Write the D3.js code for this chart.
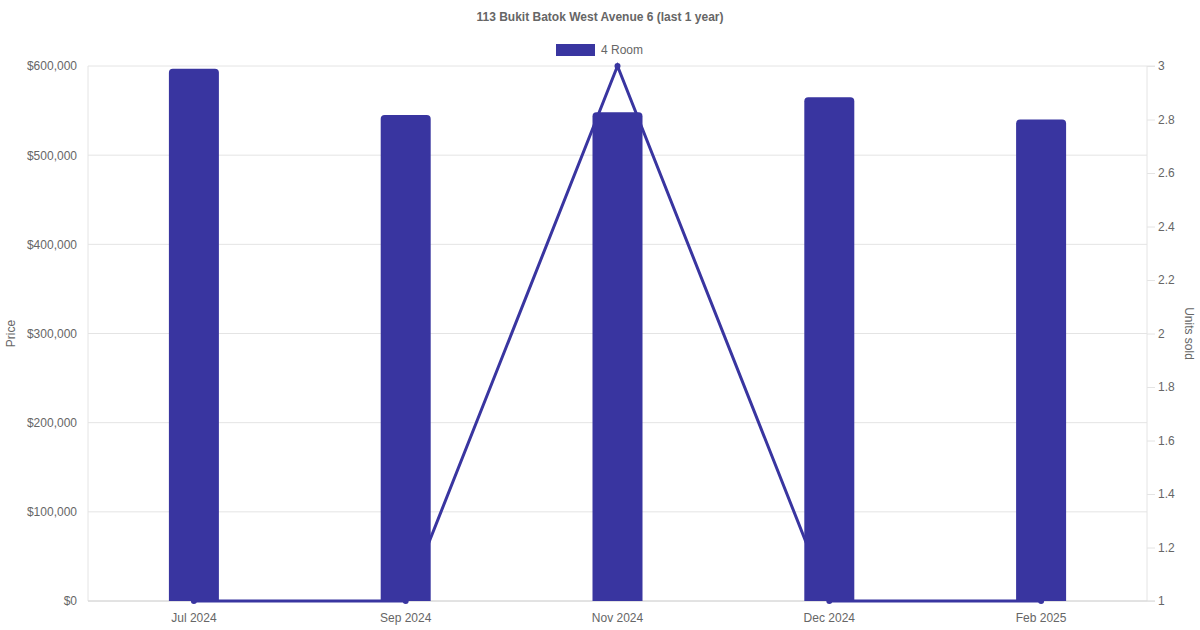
<!DOCTYPE html>
<html>
<head>
<meta charset="utf-8">
<script src="https://cdn.jsdelivr.net/npm/d3@7"></script>
<style>
  body { margin: 0; background: #fff; }
  text { font-family: "Liberation Sans", Arial, sans-serif; fill: #666; }
</style>
</head>
<body>
<div id="chart"></div>
<script>
// chart data
var months = ["Jul 2024", "Sep 2024", "Nov 2024", "Dec 2024", "Feb 2025"];
var prices = [597000, 545000, 548000, 565000, 540000];
var unitsSold = [1, 1, 3, 1, 1];
var priceTicks = [0, 100000, 200000, 300000, 400000, 500000, 600000];
var unitTicks = [1, 1.2, 1.4, 1.6, 1.8, 2, 2.2, 2.4, 2.6, 2.8, 3];
var seriesName = "4 Room";

var color = "#3935a0";
var gridColor = "#e4e4e4";

var width = 1200, height = 630;
var margin = { top: 66, right: 53, bottom: 29, left: 88 };
var innerW = width - margin.left - margin.right,
    innerH = height - margin.top - margin.bottom;

var svg = d3.select("#chart").append("svg")
    .attr("width", width)
    .attr("height", height);

var g = svg.append("g")
    .attr("transform", "translate(" + margin.left + "," + margin.top + ")");

var x = d3.scaleBand().domain(months).range([0, innerW]).padding(0);
var yPrice = d3.scaleLinear().domain([0, 600000]).range([innerH, 0]);
var yUnits = d3.scaleLinear().domain([1, 3]).range([innerH, 0]);

// horizontal grid lines from the price axis
g.append("g")
    .selectAll("line")
    .data(priceTicks)
    .enter()
    .append("line")
    .attr("x1", 0)
    .attr("x2", function(d){ return d === 600000 ? innerW + 8 : innerW; })
    .attr("y1", function(d){ return yPrice(d); })
    .attr("y2", function(d){ return yPrice(d); })
    .attr("stroke", gridColor)
    .attr("stroke-width", 1);

// axis border lines
g.append("line").attr("x1", 0).attr("x2", 0).attr("y1", 0).attr("y2", innerH)
    .attr("stroke", gridColor);
g.append("line").attr("x1", innerW).attr("x2", innerW).attr("y1", 0).attr("y2", innerH)
    .attr("stroke", gridColor);
g.append("line").attr("x1", 0).attr("x2", innerW + 8).attr("y1", innerH).attr("y2", innerH)
    .attr("stroke", "#d4d4d4");

// left axis
var leftAxis = d3.axisLeft(yPrice)
    .tickValues(priceTicks)
    .tickSize(0)
    .tickPadding(11)
    .tickFormat(function(d){ return "$" + d3.format(",")(d); });
var gl = g.append("g").call(leftAxis);
gl.select(".domain").remove();
gl.selectAll("text").attr("font-size", 12).attr("fill", "#666").style("font-family", "Liberation Sans, Arial, sans-serif");

// right axis
var rightAxis = d3.axisRight(yUnits)
    .tickValues(unitTicks)
    .tickSize(8)
    .tickPadding(3)
    .tickFormat(function(d){ return d3.format("~g")(d); });
var gr = g.append("g").attr("transform", "translate(" + innerW + ",0)").call(rightAxis);
gr.select(".domain").remove();
gr.selectAll("line").attr("stroke", gridColor);
gr.selectAll("text").attr("font-size", 12).attr("fill", "#666").style("font-family", "Liberation Sans, Arial, sans-serif");

// bottom axis
var bottomAxis = d3.axisBottom(x).tickSize(0).tickPadding(12);
var gb = g.append("g").attr("transform", "translate(0," + innerH + ")").call(bottomAxis);
gb.select(".domain").remove();
gb.selectAll("text").attr("font-size", 12).attr("fill", "#666").style("font-family", "Liberation Sans, Arial, sans-serif");

// units sold line (drawn under the bars)
var line = d3.line()
    .x(function(d, i){ return x(months[i]) + x.bandwidth() / 2; })
    .y(function(d){ return yUnits(d); });

g.append("path")
    .datum(unitsSold)
    .attr("d", line)
    .attr("fill", "none")
    .attr("stroke", color)
    .attr("stroke-width", 3);

g.selectAll(".dot")
    .data(unitsSold)
    .enter()
    .append("circle")
    .attr("class", "dot")
    .attr("cx", function(d, i){ return x(months[i]) + x.bandwidth() / 2; })
    .attr("cy", function(d){ return yUnits(d); })
    .attr("r", 3)
    .attr("fill", color);

// price bars with rounded tops
var barW = 50, r = 4;
g.selectAll(".bar")
    .data(prices)
    .enter()
    .append("path")
    .attr("class", "bar")
    .attr("fill", color)
    .attr("d", function(d, i){
        var x0 = x(months[i]) + x.bandwidth() / 2 - barW / 2;
        var y0 = yPrice(d), y1 = yPrice(0);
        return "M" + x0 + "," + y1 +
            "V" + (y0 + r) +
            "Q" + x0 + "," + y0 + " " + (x0 + r) + "," + y0 +
            "H" + (x0 + barW - r) +
            "Q" + (x0 + barW) + "," + y0 + " " + (x0 + barW) + "," + (y0 + r) +
            "V" + y1 + "Z";
    });

// title
svg.append("text")
    .text("113 Bukit Batok West Avenue 6 (last 1 year)")
    .attr("x", width / 2)
    .attr("y", 21)
    .attr("text-anchor", "middle")
    .attr("font-size", 12)
    .attr("font-weight", "bold");

// legend
svg.append("rect")
    .attr("x", 556).attr("y", 44)
    .attr("width", 39).attr("height", 12)
    .attr("fill", color);
svg.append("text")
    .text(seriesName)
    .attr("x", 601)
    .attr("y", 54)
    .attr("font-size", 12);

// axis titles
svg.append("text")
    .text("Price")
    .attr("transform", "translate(15," + (margin.top + innerH / 2) + ") rotate(-90)")
    .attr("text-anchor", "middle")
    .attr("font-size", 12);

svg.append("text")
    .text("Units sold")
    .attr("transform", "translate(1185," + (margin.top + innerH / 2) + ") rotate(90)")
    .attr("text-anchor", "middle")
    .attr("font-size", 12);
</script>
</body>
</html>
